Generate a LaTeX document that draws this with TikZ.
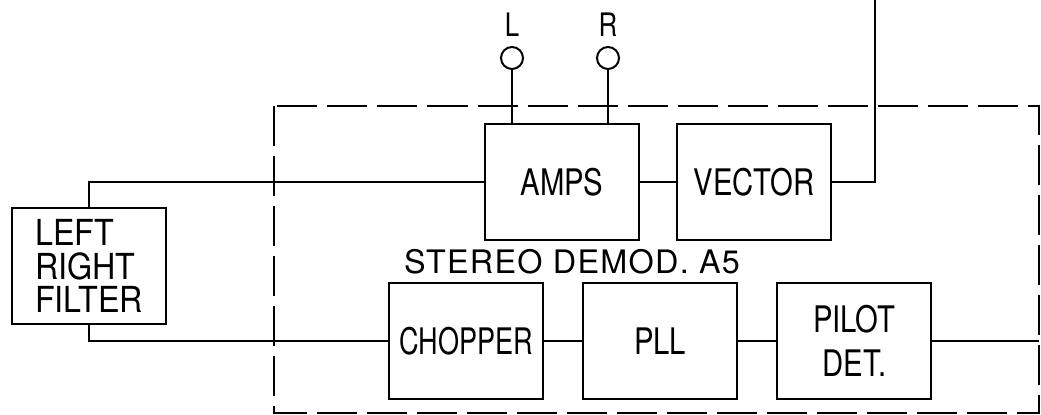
\documentclass[tikz,border=0pt]{standalone}
\usepackage{fontspec}
\newfontfamily\handfont[FakeStretch=0.8]{TeX Gyre Heros}
\newfontfamily\narrowfont[FakeStretch=0.74]{TeX Gyre Heros}
\newfontfamily\filtfont[FakeStretch=0.9]{TeX Gyre Heros}
\newfontfamily\titlefont[LetterSpace=4]{TeX Gyre Heros}
\usetikzlibrary{positioning}

\begin{document}
\begin{tikzpicture}[x=0.025cm,y=-0.025cm,
  block/.style={draw,line width=1.5pt,minimum width=3.85cm,minimum height=2.9cm,
                inner sep=0pt,align=center,font=\handfont\fontsize{26}{31}\selectfont},
  jack/.style={draw,circle,line width=1.4pt,minimum size=0.55cm,inner sep=0pt},
  tag/.style={inner sep=0pt,font=\handfont\fontsize{23}{23}\selectfont},
  wire/.style={line width=1.4pt},
  frame/.style={line width=1.9pt,dash pattern=on 1cm off 0.25cm}]
  \useasboundingbox (0,0) rectangle (1041,415);
  \node[block] (amps) at (562,182) {AMPS};
  \node[block,right=9mm of amps] (vec) {VECTOR};
  \node[block,font=\narrowfont\fontsize{26}{31}\selectfont] (chop) at (466,341) {CHOPPER};
  \node[block,right=9.5mm of chop] (pll) {PLL};
  \node[block,right=9.5mm of pll] (pilot) {PILOT\\DET.};
  \node[block,align=left,font=\filtfont\fontsize{25.5}{23.6}\selectfont] (filt) at (89,266) {LEFT\\RIGHT\\FILTER};
  \node[inner sep=0pt,font=\titlefont\fontsize{23}{23}\selectfont] (title) at (572,262) {STEREO DEMOD. A5};
  \node[jack] (lj) at (512,58) {};
  \node[jack] (rj) at (608,58) {};
  \node[tag,above=2.2mm of lj] (lt) {L};
  \node[tag,above=2.2mm of rj] (rt) {R};
  \coordinate (dtl) at (274,106);
  \coordinate (dbr) at (1039,413);
  \coordinate (vout) at (875,0);
  \draw[frame] (dtl) rectangle (dbr);
  \draw[wire] (filt.north) |- (amps.west);
  \draw[wire] (filt.south) |- (chop.west);
  \draw[wire] (amps) -- (vec);
  \draw[wire] (vec.east) -| (vout);
  \draw[wire] (chop) -- (pll);
  \draw[wire] (pll) -- (pilot);
  \draw[wire] (pilot.east) -- (pilot.east -| dbr);
  \draw[wire] (lj.south) -- (lj.south |- amps.north);
  \draw[wire] (rj.south) -- (rj.south |- amps.north);
\end{tikzpicture}
\end{document}
